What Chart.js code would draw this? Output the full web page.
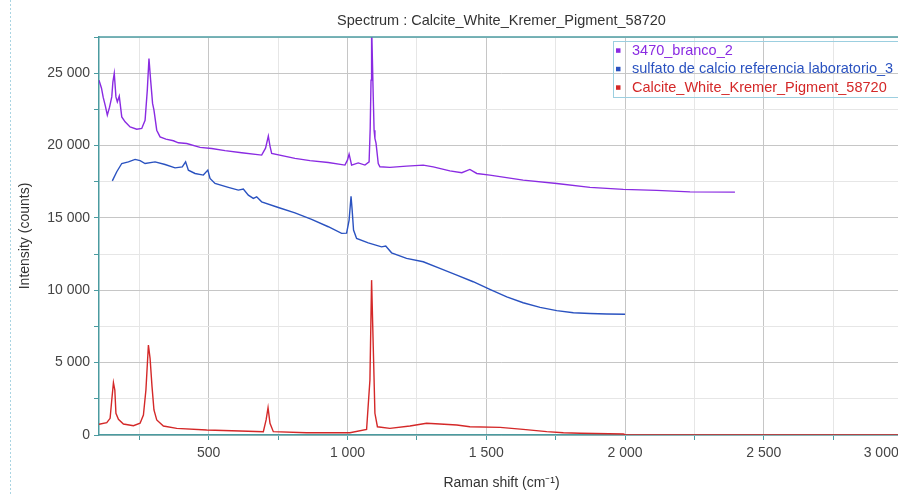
<!DOCTYPE html>
<html>
<head>
<meta charset="utf-8">
<title>Spectrum</title>
<script src="https://cdn.jsdelivr.net/npm/chart.js@4.4.1/dist/chart.umd.min.js"></script>
<style>
  html, body { margin: 0; padding: 0; background: #fff; overflow: hidden; }
  #wrap { position: relative; width: 910px; height: 495px; }
</style>
</head>
<body>
<div id="wrap"><canvas id="spectrumChart"></canvas></div>
<script>
// Raman shift (cm-1) / intensity (counts) for each spectrum
const brancoShift = [105, 114, 120, 128, 135, 143, 151, 155, 160, 166, 171, 178, 187, 199, 217, 241, 259, 271, 279, 285,
  291, 298, 303, 313, 325, 346, 373, 391, 421, 469, 511, 559, 619, 691, 705, 715, 721, 727, 811, 865,
  931, 991, 1000, 1006, 1011, 1015, 1039, 1063, 1078, 1082, 1085, 1087, 1093, 1096, 1099, 1103, 1111, 1117, 1153, 1213,
  1273, 1309, 1369, 1412, 1441, 1466, 1513, 1633, 1754, 1874, 1994, 2114, 2234, 2396];
const brancoCounts = [24520, 23960, 23340, 22720, 22100, 22650, 23360, 24380, 24980, 23360, 23020, 23410, 21980, 21640, 21290, 21130, 21180, 21750, 23830, 26010,
  24520, 22910, 22450, 21060, 20600, 20440, 20330, 20190, 20140, 19870, 19800, 19650, 19500, 19340, 19820, 20650, 19960, 19450, 19110, 18960,
  18830, 18650, 18990, 19410, 18990, 18650, 18800, 18650, 18870, 21200, 24520, 28400, 23360, 21060, 20490, 20170, 18760, 18530, 18490, 18580,
  18650, 18530, 18250, 18120, 18350, 18070, 17960, 17610, 17380, 17110, 16970, 16900, 16800, 16780];

const sulfatoShift = [153, 169, 187, 211, 235, 253, 271, 307, 343, 379, 405, 417, 427, 451, 481, 497, 505, 523, 571, 607,
  625, 643, 661, 673, 691, 751, 811, 871, 931, 979, 997, 1006, 1013, 1017, 1022, 1033, 1075, 1123, 1138, 1159,
  1213, 1273, 1333, 1394, 1453, 1513, 1574, 1633, 1694, 1754, 1814, 1874, 1934, 2000];
const sulfatoCounts = [17560, 18190, 18760, 18870, 19040, 18960, 18760, 18870, 18690, 18460, 18530, 18870, 18300, 18070, 17960, 18300, 17730, 17380, 17110, 16920,
  16990, 16570, 16350, 16460, 16110, 15720, 15350, 14900, 14390, 13930, 13950, 14850, 16500, 15540, 14160, 13580, 13280, 13000, 13050, 12590,
  12200, 11970, 11510, 11050, 10590, 10060, 9550, 9140, 8820, 8590, 8450, 8400, 8360, 8340];

const calciteShift = [105, 133, 145, 151, 157, 162, 166, 175, 193, 229, 253, 265, 274, 283, 289, 296, 303, 313, 337, 385,
  493, 613, 697, 707, 714, 721, 733, 853, 1009, 1069, 1081, 1087, 1093, 1099, 1108, 1153, 1225, 1285, 1333, 1394,
  1441, 1550, 1633, 1718, 1778, 1838, 1994, 2002, 3005];
const calciteCounts = [740, 850, 1150, 2420, 3610, 3110, 1500, 1080, 760, 640, 810, 1380, 3110, 6220, 5300, 3340, 1730, 1040, 620, 460,
  350, 280, 230, 1040, 1890, 810, 230, 160, 160, 390, 3800, 10700, 6100, 1500, 570, 460, 620, 810, 760, 690,
  570, 530, 390, 230, 160, 120, 70, 0, 0];

const seriesLabels = ['3470_branco_2', 'sulfato de calcio referencia laboratorio_3', 'Calcite_White_Kremer_Pigment_58720'];
const seriesColors = ['#8a2be2', '#2a52c0', '#d42828'];

// every 250 cm-1 / 2500 counts, labels only on the 500 / 5000 steps
const shiftTicks = [250, 500, 750, 1000, 1250, 1500, 1750, 2000, 2250, 2500, 2750, 3000];
const countTicks = [0, 2500, 5000, 7500, 10000, 12500, 15000, 17500, 20000, 22500, 25000, 27500];

const teal = '#4b9ba0';
const font = 'Arial, "Liberation Sans", sans-serif';

function spaced(v) {
  return String(v).replace(/\B(?=(\d{3})+(?!\d))/g, ' ');
}
function toPoints(xs, ys) {
  return xs.map((x, i) => ({ x: x, y: ys[i] }));
}

// top frame line, the key box and the dotted margin line
const frameAndKey = {
  id: 'frameAndKey',
  beforeDraw(chart) {
    const ctx = chart.ctx;
    ctx.save();
    ctx.strokeStyle = '#a9d4e2';
    ctx.lineWidth = 1;
    ctx.setLineDash([2, 2]);
    ctx.beginPath();
    ctx.moveTo(10.5, 0);
    ctx.lineTo(10.5, chart.height);
    ctx.stroke();
    ctx.restore();
  },
  afterDatasetsDraw(chart) {
    const { ctx, chartArea } = chart;
    ctx.save();
    ctx.strokeStyle = teal;
    ctx.lineWidth = 1.5;
    ctx.beginPath();
    ctx.moveTo(chartArea.left, chartArea.top);
    ctx.lineTo(chartArea.right, chartArea.top);
    ctx.stroke();

    const bx = chartArea.left + 514, by = chartArea.top + 4;
    ctx.strokeStyle = '#9ccfe0';
    ctx.lineWidth = 1;
    ctx.strokeRect(bx + 0.5, by + 0.5, 320, 56);

    ctx.font = '14.5px ' + font;
    ctx.textBaseline = 'middle';
    ctx.textAlign = 'left';
    chart.data.datasets.forEach((ds, i) => {
      const cy = by + 9.5 + i * 18.5;
      ctx.fillStyle = ds.borderColor;
      ctx.fillRect(bx + 3, cy - 2.2, 4.5, 4.5);
      ctx.fillText(ds.label, bx + 19, cy);
    });
    ctx.restore();
  }
};

const ctx = document.getElementById('spectrumChart').getContext('2d');

new Chart(ctx, {
  type: 'line',
  data: {
    datasets: [
      { label: seriesLabels[0], data: toPoints(brancoShift, brancoCounts), borderColor: seriesColors[0] },
      { label: seriesLabels[1], data: toPoints(sulfatoShift, sulfatoCounts), borderColor: seriesColors[1] },
      { label: seriesLabels[2], data: toPoints(calciteShift, calciteCounts), borderColor: seriesColors[2] }
    ]
  },
  options: {
    responsive: true,
    maintainAspectRatio: false,
    animation: false,
    layout: { padding: { left: 17, right: 6, top: 0, bottom: 0 } },
    elements: {
      point: { radius: 0 },
      line: { borderWidth: 1.4, tension: 0, fill: false }
    },
    plugins: {
      legend: { display: false },
      tooltip: { enabled: false },
      title: {
        display: true,
        text: 'Spectrum : Calcite_White_Kremer_Pigment_58720',
        fullSize: false,
        color: '#333',
        font: { family: font, size: 14.5, weight: 'normal' },
        padding: { top: 12.5, bottom: 7.1 }
      }
    },
    scales: {
      x: {
        type: 'linear',
        min: 105,
        max: 3005,
        afterBuildTicks: s => { s.ticks = shiftTicks.map(v => ({ value: v })); },
        afterFit: s => { s.height = 60; },
        ticks: {
          autoSkip: false,
          maxRotation: 0,
          align: 'inner',
          padding: 5,
          color: '#444',
          font: { family: font, size: 14 },
          callback: v => (v % 500 === 0 ? spaced(v) + (v === 3000 ? ' ' : '') : '')
        },
        grid: {
          color: c => (c.tick && c.tick.value % 500 === 0 ? '#c6c6c6' : '#e6e6e6'),
          tickColor: teal,
          tickLength: 5
        },
        border: { color: teal, width: 1.5 },
        title: {
          display: true,
          text: 'Raman shift (cm⁻¹)',
          color: '#333',
          font: { family: font, size: 14 },
          padding: { top: 0, bottom: 3 }
        }
      },
      y: {
        min: 0,
        max: 27500,
        afterBuildTicks: s => { s.ticks = countTicks.map(v => ({ value: v })); },
        afterFit: s => { s.width = 82; },
        ticks: {
          autoSkip: false,
          padding: 4,
          color: '#444',
          font: { family: font, size: 14 },
          callback: v => (v % 5000 === 0 ? spaced(v) : '')
        },
        grid: {
          color: c => (c.tick && c.tick.value % 5000 === 0 ? '#c6c6c6' : '#e6e6e6'),
          tickColor: teal,
          tickLength: 5
        },
        border: { color: teal, width: 1.5 },
        title: {
          display: true,
          text: 'Intensity (counts)',
          color: '#333',
          font: { family: font, size: 14 },
          padding: 0
        }
      }
    }
  },
  plugins: [frameAndKey]
});
</script>
</body>
</html>
